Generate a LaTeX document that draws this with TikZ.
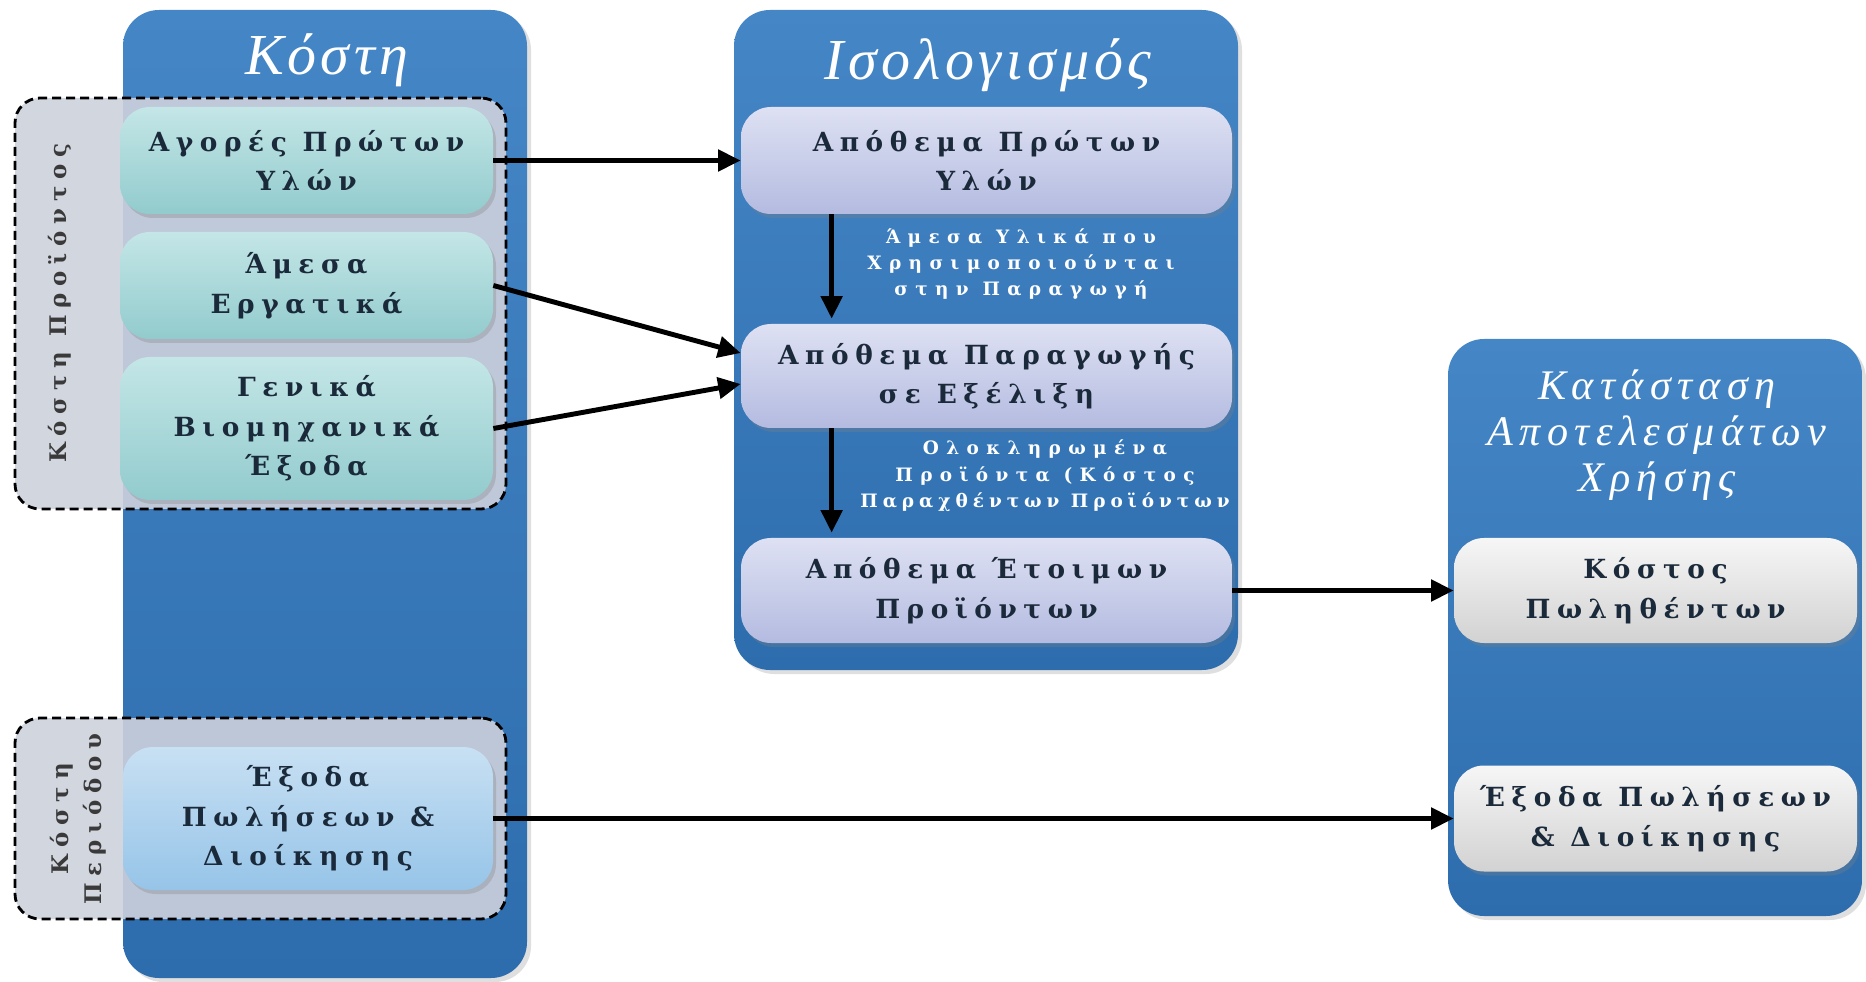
\documentclass[tikz,border=0pt]{standalone}
\usepackage{fontspec}
\setmainfont{Liberation Serif}
\newfontfamily\boxfont[LetterSpace=25]{DejaVu Serif}
\newfontfamily\labfont[LetterSpace=40]{DejaVu Serif}
\newfontfamily\labtight[LetterSpace=27]{DejaVu Serif}
\newfontfamily\vertfont[LetterSpace=30]{DejaVu Serif}
\newfontfamily\titfont[LetterSpace=8]{Liberation Serif}
\newfontfamily\rtitfont[LetterSpace=15]{Liberation Serif}
\usetikzlibrary{arrows.meta,shadows}

\definecolor{colTop}{HTML}{4586C6}
\definecolor{colBot}{HTML}{2D6DAE}
\definecolor{grpFill}{HTML}{CDD1DC}
\definecolor{txtDark}{HTML}{1B2A3A}
\definecolor{vertTxt}{HTML}{3A3A3A}

\tikzset{
  column/.style={rounded corners=0.72cm, top color=colTop, bottom color=colBot,
    drop shadow={opacity=0.25, shadow xshift=0.08cm, shadow yshift=-0.08cm}},
  group/.style={draw=black, dash pattern=on 0.18cm off 0.1cm, line width=1.6pt,
    rounded corners=0.5cm, fill=grpFill, fill opacity=0.9, text opacity=1},
  item/.style={rounded corners=0.6cm, align=center, inner sep=0pt,
    text=txtDark, font={\fontsize{15}{22.5}\boxfont\bfseries},
    drop shadow={opacity=0.3, shadow xshift=0.06cm, shadow yshift=-0.08cm}},
  costitem/.style={item, top color={rgb,255:red,196;green,230;blue,231}, bottom color={rgb,255:red,146;green,203;blue,205}},
  perioditem/.style={item, top color={rgb,255:red,200;green,224;blue,243}, bottom color={rgb,255:red,150;green,196;blue,232}},
  stockitem/.style={item, top color={rgb,255:red,222;green,225;blue,243}, bottom color={rgb,255:red,180;green,187;blue,224}},
  resitem/.style={item, top color={rgb,255:red,246;green,246;blue,246}, bottom color={rgb,255:red,210;green,210;blue,210}},
  coltitle/.style={text=white, align=center},
  flowlabel/.style={text=white, align=center, font={\fontsize{10.5}{15}\labfont\bfseries}},
  vertlabel/.style={rotate=90, align=center, text=vertTxt, font={\fontsize{13}{19}\vertfont\bfseries}},
  arr/.style={line width=2.8pt, -{Triangle[length=0.45cm,width=0.42cm]}}
}

\begin{document}
\begin{tikzpicture}
\useasboundingbox (0,0) rectangle (37.32,-19.64);

% Columns
\node[column, minimum width=8.08cm, minimum height=19.36cm] (costs) at (6.5,-9.88) {};
\node[column, minimum width=10.08cm, minimum height=13.2cm] (balance) at (19.72,-6.8) {};
\node[column, minimum width=8.28cm, minimum height=11.54cm] (income) at (33.1,-12.55) {};

\node[coltitle, font={\fontsize{33}{38}\titfont\itshape}] (costsT) at (6.54,-1.2) {Κόστη};
\node[coltitle, font={\fontsize{33}{38}\titfont\itshape}] (balanceT) at (19.76,-1.3) {Ισολογισμός};
\node[coltitle, font={\fontsize{24}{26}\rtitfont\itshape}] (incomeT) at (33.14,-8.7)
  {Κατάσταση\\Αποτελεσμάτων\\Χρήσης};

% Product costs
\node[group, minimum width=9.82cm, minimum height=8.22cm] (prodgrp) at (5.21,-6.07) {};
\node[vertlabel] (prodL) at (1.2,-6.06) {Κόστη Προϊόντος};
\node[costitem, minimum width=7.46cm, minimum height=2.14cm] (purch) at (6.13,-3.21) {Αγορές Πρώτων\\Υλών};
\node[costitem, minimum width=7.46cm, minimum height=2.14cm] (labour) at (6.13,-5.71) {Άμεσα\\Εργατικά};
\node[costitem, minimum width=7.46cm, minimum height=2.86cm] (overhead) at (6.13,-8.57) {Γενικά\\Βιομηχανικά\\Έξοδα};

% Period costs
\node[group, minimum width=9.82cm, minimum height=4.02cm] (pergrp) at (5.21,-16.37) {};
\node[vertlabel] (perL) at (1.56,-16.38) {Κόστη\\Περιόδου};
\node[perioditem, minimum width=7.4cm, minimum height=2.86cm] (selling) at (6.16,-16.37) {Έξοδα\\Πωλήσεων \&\\Διοίκησης};

% Inventories
\node[stockitem, minimum width=9.82cm, minimum height=2.14cm] (raw) at (19.73,-3.21) {Απόθεμα Πρώτων\\Υλών};
\node[stockitem, minimum width=9.82cm, minimum height=2.08cm] (wip) at (19.73,-7.52) {Απόθεμα Παραγωγής\\σε Εξέλιξη};
\node[stockitem, minimum width=9.82cm, minimum height=2.1cm] (fin) at (19.73,-11.81) {Απόθεμα Έτοιμων\\Προϊόντων};

\node[flowlabel] (usedL) at (20.42,-5.28) {Άμεσα Υλικά που\\Χρησιμοποιούνται\\στην Παραγωγή};
\node[flowlabel] (doneL) at (20.9,-9.52) {Ολοκληρωμένα\\Προϊόντα (Κόστος\\{\labtight Παραχθέντων Προϊόντων}};

% Income statement
\node[resitem, minimum width=8.06cm, minimum height=2.1cm] (cogs) at (33.11,-11.81) {Κόστος\\Πωληθέντων};
\node[resitem, minimum width=8.06cm, minimum height=2.12cm] (sga) at (33.11,-16.37) {Έξοδα Πωλήσεων\\\& Διοίκησης};

% Flows
\draw[arr] (purch.east) -- (raw.west);
\draw[arr] (labour.east) -- ([yshift=0.46cm]wip.west);
\draw[arr] (overhead.east) -- ([yshift=-0.16cm]wip.west);
\draw[arr] ([xshift=1.82cm]raw.south west) -- ([xshift=1.82cm, yshift=0.1cm]wip.north west);
\draw[arr] ([xshift=1.82cm]wip.south west) -- ([xshift=1.82cm, yshift=0.1cm]fin.north west);
\draw[arr] (fin.east) -- (cogs.west);
\draw[arr] (selling.east) -- (sga.west);

\end{tikzpicture}
\end{document}
